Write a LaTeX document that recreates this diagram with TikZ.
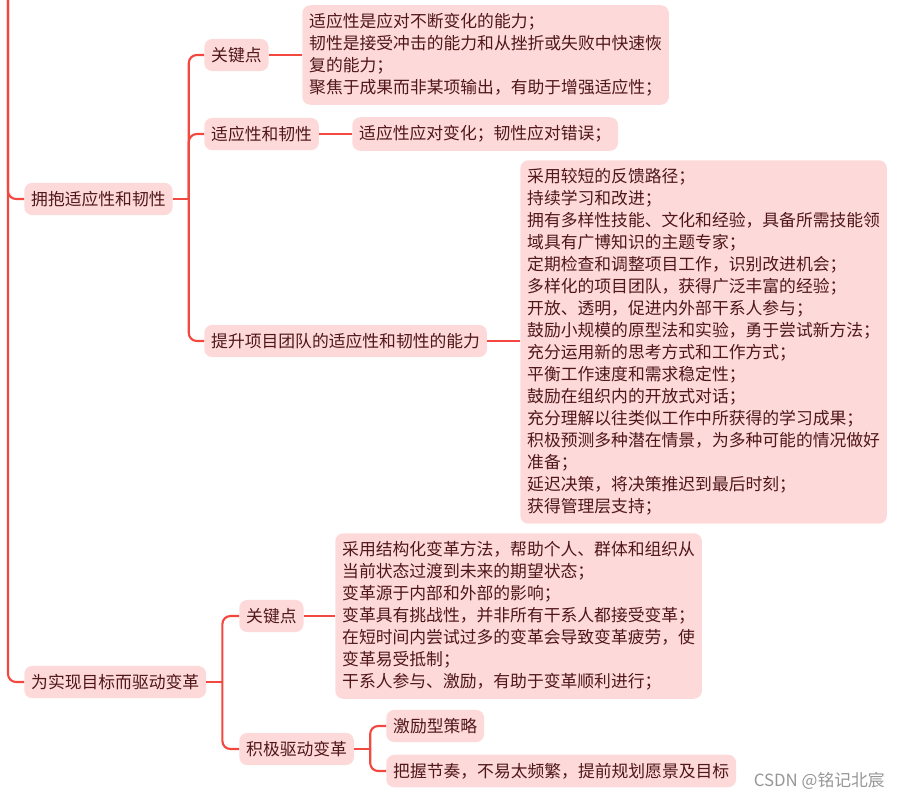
\documentclass[tikz,border=0pt]{standalone}
\usepackage{fontspec}
\setmainfont{Noto Sans CJK SC}
\usepackage{tikz}

\definecolor{mapred}{RGB}{242,72,64}
\definecolor{mappink}{RGB}{253,218,217}
\definecolor{maptext}{RGB}{80,22,26}
\definecolor{markgray}{RGB}{150,150,150}

\tikzset{
  topic/.style={fill=mappink, rounded corners=6pt, text=maptext, anchor=west,
    inner xsep=5.2pt, inner ysep=6.2pt, align=left,
    font=\fontsize{12.6}{16.5}\selectfont},
  link/.style={draw=mapred, line width=1.6pt, rounded corners=6pt}
}

\begin{document}
\begin{tikzpicture}[x=0.75pt,y=-0.75pt]
                        \useasboundingbox (0,0) rectangle (899,799);

                        % Nodes
                        \coordinate (top) at (8,0);
                        \node[topic] (embrace) at (24,199) {拥抱适应性和韧性};
                        \node[topic] (kp1) at (204,55) {关键点};
                        \node[topic] (adapt) at (204,134) {适应性和韧性};
                        \node[topic] (boost) at (204,341) {提升项目团队的适应性和韧性的能力};
                        \node[topic] (kp1txt) at (302,55) {适应性是应对不断变化的能力；\\韧性是接受冲击的能力和从挫折或失败中快速恢\\复的能力；\\聚焦于成果而非某项输出，有助于增强适应性；};
                        \node[topic] (adapttxt) at (352,134) {适应性应对变化；韧性应对错误；};
                        \node[topic] (boosttxt) at (520,342) {采用较短的反馈路径；\\持续学习和改进；\\拥有多样性技能、文化和经验，具备所需技能领\\域具有广博知识的主题专家；\\定期检查和调整项目工作，识别改进机会；\\多样化的项目团队，获得广泛丰富的经验；\\开放、透明，促进内外部干系人参与；\\鼓励小规模的原型法和实验，勇于尝试新方法；\\充分运用新的思考方式和工作方式；\\平衡工作速度和需求稳定性；\\鼓励在组织内的开放式对话；\\充分理解以往类似工作中所获得的学习成果；\\积极预测多种潜在情景，为多种可能的情况做好\\准备；\\延迟决策，将决策推迟到最后时刻；\\获得管理层支持；};
                        \node[topic] (drive) at (24,682) {为实现目标而驱动变革};
                        \node[topic] (kp2) at (239,616) {关键点};
                        \node[topic] (act) at (239,749) {积极驱动变革};
                        \node[topic] (kp2txt) at (335,616) {采用结构化变革方法，帮助个人、群体和组织从\\当前状态过渡到未来的期望状态；\\变革源于内部和外部的影响；\\变革具有挑战性，并非所有干系人都接受变革；\\在短时间内尝试过多的变革会导致变革疲劳，使\\变革易受抵制；\\干系人参与、激励，有助于变革顺利进行；};
                        \node[topic] (incent) at (386,726) {激励型策略};
                        \node[topic] (rhythm) at (386,771) {把握节奏，不易太频繁，提前规划愿景及目标};
                        \node[text=markgray, anchor=east, inner sep=0pt, font=\fontsize{12.6}{14}\selectfont] (mark) at (885,781) {CSDN @铭记北宸};

                        % Edges
                        \draw[link] (top) |- (embrace.west);
                        \draw[link] (top) |- (drive.west);

                        \draw[link] (embrace.east) -- ++(16,0) coordinate (b1);
                        \draw[link] (b1) |- (kp1.west);
                        \draw[link] (b1) |- (adapt.west);
                        \draw[link] (b1) |- (boost.west);

                        \draw[link] (kp1.east) -- (kp1txt.west |- kp1.east);
                        \draw[link] (adapt.east) -- (adapttxt.west);
                        \draw[link] (boost.east) -- (boosttxt.west |- boost.east);

                        \draw[link] (drive.east) -- ++(16,0) coordinate (b2);
                        \draw[link] (b2) |- (kp2.west);
                        \draw[link] (b2) |- (act.west);

                        \draw[link] (kp2.east) -- (kp2txt.west |- kp2.east);

                        \draw[link] (act.east) -- ++(16,0) coordinate (b3);
                        \draw[link] (b3) |- (incent.west);
                        \draw[link] (b3) |- (rhythm.west);
                    \end{tikzpicture}
\end{document}
